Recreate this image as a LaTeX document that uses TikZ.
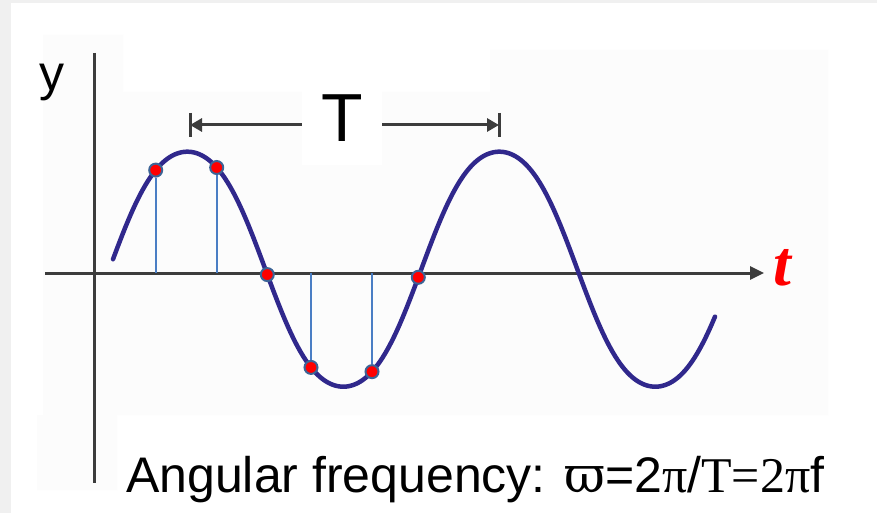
\documentclass[tikz,border=0pt]{standalone}
\usepackage{fontspec}
\setmainfont{Liberation Sans}
\newfontfamily\tms{Liberation Serif}
\newfontfamily\dvs{DejaVu Serif}
\usetikzlibrary{arrows.meta}
\definecolor{wavecol}{RGB}{48,40,140}
\definecolor{axisgray}{RGB}{60,60,60}
\definecolor{stemblue}{RGB}{74,126,196}
\definecolor{dotrim}{RGB}{60,100,150}
\definecolor{pagegray}{RGB}{240,240,240}
\definecolor{plotbg}{RGB}{252,252,252}
\begin{document}
\begin{tikzpicture}[x=1pt,y=-1pt,
  declare function={wv(\x)=269.2-117.5*(sin((\x-109.3)/312*360)+sin((\x-109.3)/104*360)/30)*30/29;},
  axis/.style={draw=axisgray,line width=3pt},
  dim/.style={draw=axisgray,line width=3pt},
  wavestyle/.style={draw=wavecol,line width=4.5pt,line cap=round},
  dot/.style={circle,fill=red,draw=dotrim,line width=2pt,inner sep=0pt,minimum size=13pt},
  stem/.style={draw=stemblue,line width=2.2pt}]
\useasboundingbox (0,0) rectangle (877,513);
\fill[pagegray] (0,0) rectangle (877,513);
\fill[white] (11,3) rectangle (877,513);
\fill[plotbg] (43,35) -- (123,35) -- (123,92) -- (490,92) -- (490,50) -- (828,50)
  -- (828,415) -- (117,415) -- (117,490) -- (37,490) -- (37,415) -- (43,415) -- cycle;
% axes
\coordinate (ytop) at (94,53);
\coordinate (ybot) at (94,483);
\coordinate (xl) at (45,273);
\coordinate (xr) at (764,273);
\draw[axis] (ytop) -- (ybot);
\draw[axis,-{Triangle[length=14pt,width=13pt]}] (xl) -- (xr);
\node[text=red,font=\tms\bfseries\itshape\fontsize{64}{64}\selectfont,anchor=base] (tlab) at (782,285) {t};
\node[font=\fontsize{50}{50}\selectfont,anchor=base] (ylab) at (52,91) {y};
% period dimension
\node[fill=white,minimum width=80pt,minimum height=76pt,inner sep=0pt,text depth=18pt,
  font=\fontsize{68}{68}\selectfont] (T) at (342,127.5) {T};
\coordinate (L) at (190,125);
\coordinate (R) at (499,125);
\draw[dim,-{Triangle[length=12pt,width=13pt]}] (T.west |- L) -- (L);
\draw[dim,-{Triangle[length=12pt,width=13pt]}] (T.east |- R) -- (R);
\draw[dim] (L) ++(0,-12) -- ++(0,24);
\draw[dim] (R) ++(0,-12) -- ++(0,24);
% wave
\draw[wavestyle] plot[domain=113:715,samples=300,smooth] (\x,{wv(\x)});
% sample points
\node[dot] (d1) at (155.7,{wv(155.7)}) {};
\node[dot] (d2) at (216.7,{wv(216.7)}) {};
\node[dot] (d3) at (267.3,{wv(267.3)}) {};
\node[dot] (d4) at (311,{wv(311)}) {};
\node[dot] (d5) at (372,{wv(372)}) {};
\node[dot] (d6) at (418.3,{wv(418.3)}) {};
\coordinate (a1) at (155.7,273);
\coordinate (a2) at (216.7,273);
\coordinate (a4) at (311,273);
\coordinate (a5) at (372,273);
\draw[stem] (d1) -- (a1);
\draw[stem] (d2) -- (a2);
\draw[stem] (d4) -- (a4);
\draw[stem] (d5) -- (a5);
% formula
\node[anchor=base west,inner sep=0pt,font=\fontsize{50}{54}\selectfont] (formula) at (126,492)
  {Angular frequency: {\dvs ϖ}=2{\tms π}/{\tms T=2π}f};
\end{tikzpicture}
\end{document}
